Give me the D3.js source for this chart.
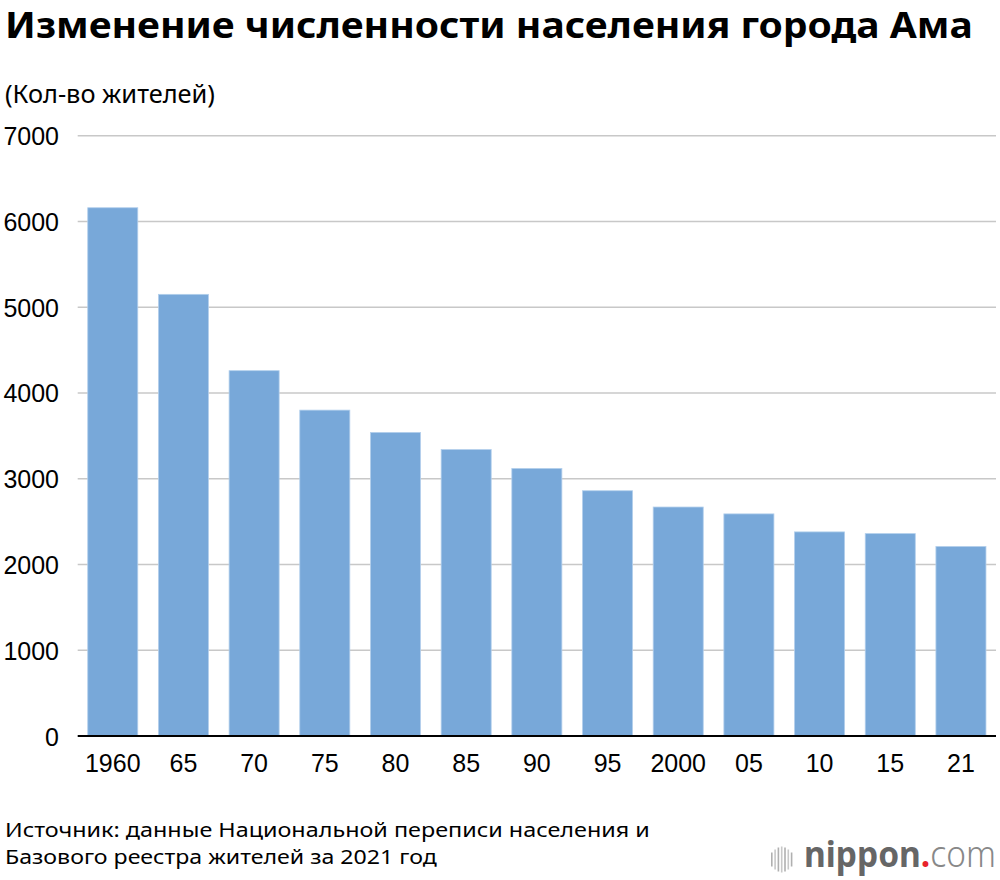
<!DOCTYPE html>
<html>
<head>
<meta charset="utf-8">
<script src="https://cdn.jsdelivr.net/npm/d3@7"></script>
<style>
  html, body { margin: 0; padding: 0; background: #fff; }
  svg { display: block; }
</style>
</head>
<body>
<svg id="chart" width="1000" height="880"></svg>
<script>
const years = ["1960", "65", "70", "75", "80", "85", "90", "95", "2000", "05", "10", "15", "21"];
const population = [6160, 5150, 4260, 3800, 3540, 3340, 3120, 2860, 2670, 2590, 2380, 2360, 2210];
const yTicks = [0, 1000, 2000, 3000, 4000, 5000, 6000, 7000];
const titleText = "Изменение численности населения города Ама";
const unitText = "(Кол-во жителей)";
const sourceLines = ["Источник: данные Национальной переписи населения и", "Базового реестра жителей за 2021 год"];

(function () {
const data = years.map((yr, i) => ({ year: yr, value: population[i] }));

const svg = d3.select("#chart");
const plotLeft = 77.7, plotRight = 996, plotTop = 135.7, plotBottom = 736;

const x = d3.scaleBand().domain(years).range([plotLeft, plotRight]).paddingInner(0.292).paddingOuter(0.142);
const y = d3.scaleLinear().domain([0, 7000]).range([plotBottom, plotTop]);

const sansFont = "'Noto Sans', 'Open Sans', sans-serif";
const helv = "'Liberation Sans', Arial, Helvetica, sans-serif";

// Choose a font size that gives the target width naturally, then stretch vertically
// so that the glyph height matches the reference (condensed look).
function fitNatural(sel, tx, ty, targetW, visualSize) {
  sel.attr("font-size", visualSize);
  const w = sel.node().getComputedTextLength();
  const f = visualSize * targetW / w;
  const sy = visualSize / f;
  sel.attr("font-size", f).attr("x", 0).attr("y", 0)
     .attr("transform", `translate(${tx},${ty}) scale(1,${sy})`);
  return sel;
}

// Title
fitNatural(svg.append("text")
  .attr("font-family", sansFont).attr("font-weight", 700)
  .attr("fill", "#000").text(titleText), 5, 37.5, 968, 35);

// Unit label
fitNatural(svg.append("text")
  .attr("font-family", sansFont)
  .attr("fill", "#000").text(unitText), 5, 103, 210, 26);

// Gridlines
svg.append("g").selectAll("line").data(yTicks.filter(d => d > 0)).join("line")
  .attr("x1", plotLeft).attr("x2", plotRight)
  .attr("y1", d => y(d)).attr("y2", d => y(d))
  .attr("stroke", "#c8c8c8").attr("stroke-width", 1.6);

// Bars
svg.append("g").selectAll("rect").data(data).join("rect")
  .attr("x", d => x(d.year))
  .attr("y", d => y(d.value))
  .attr("width", x.bandwidth())
  .attr("height", d => y(0) - y(d.value))
  .attr("fill", "#78a8d9")
  .attr("stroke", "#b3cfec").attr("stroke-width", 0.8);

// Baseline axis
svg.append("line").attr("x1", plotLeft).attr("x2", plotRight)
  .attr("y1", y(0)).attr("y2", y(0))
  .attr("stroke", "#000").attr("stroke-width", 2);

// Y tick labels
svg.append("g").selectAll("text").data(yTicks).join("text")
  .attr("x", 59).attr("y", d => y(d) + 9.5)
  .attr("text-anchor", "end")
  .attr("font-family", helv).attr("font-size", 25).attr("fill", "#000")
  .text(d => d);

// X tick labels
svg.append("g").selectAll("text").data(years).join("text")
  .attr("x", d => x(d) + x.bandwidth() / 2).attr("y", 772)
  .attr("text-anchor", "middle")
  .attr("font-family", helv).attr("font-size", 25).attr("fill", "#000")
  .text(d => d);

// Source (two lines)
function fitWidth(sel, tx, ty, targetW) {
  const w = sel.node().getComputedTextLength();
  sel.attr("x", 0).attr("y", 0).attr("transform", `translate(${tx},${ty}) scale(${targetW / w},1)`);
}
fitWidth(svg.append("text")
  .attr("font-family", sansFont).attr("font-size", 19.5).attr("fill", "#000")
  .text(sourceLines[0]), 5, 837, 645);
fitWidth(svg.append("text")
  .attr("font-family", sansFont).attr("font-size", 19.5).attr("fill", "#000")
  .text(sourceLines[1]), 5, 864, 432);

// nippon.com logo
const logo = svg.append("g");
const barHeights = [14, 20, 24, 26, 24, 20, 14];
barHeights.forEach((h, i) => {
  logo.append("rect")
    .attr("x", 771 + i * 3.3).attr("y", 859.5 - h / 2)
    .attr("width", 1.6).attr("height", h)
    .attr("fill", i % 2 ? "#c8c8c8" : "#b0b0b0");
});
const lt = logo.append("text")
  .attr("font-family", sansFont).attr("font-size", 36);
lt.append("tspan").attr("font-weight", 700).attr("fill", "#666").text("nippon");
lt.append("tspan").attr("font-weight", 700).attr("fill", "#e8232a").text(".");
lt.append("tspan").attr("font-weight", 300).attr("fill", "#888").text("com");
fitWidth(lt, 804, 867, 192);
})();
</script>
</body>
</html>
